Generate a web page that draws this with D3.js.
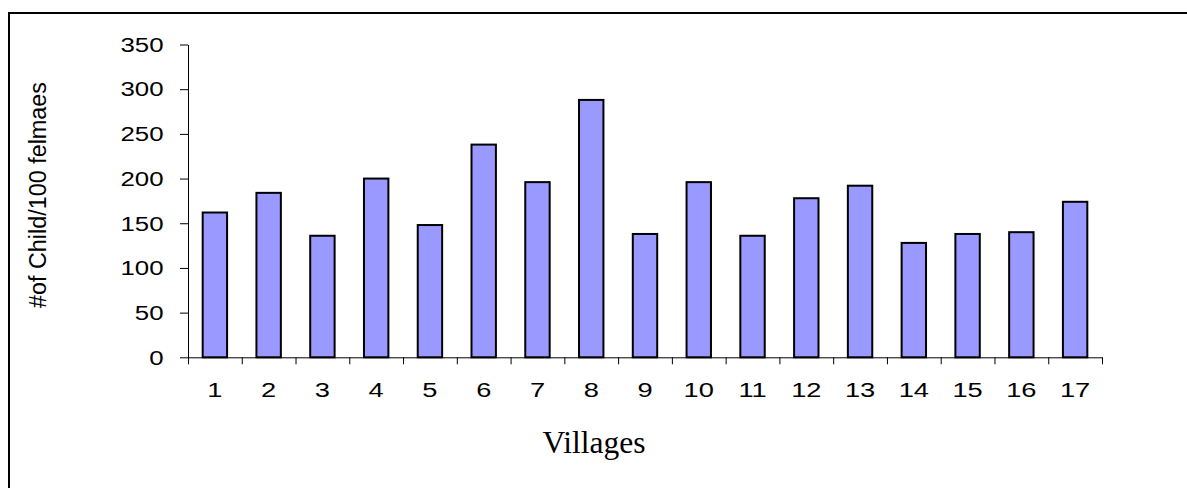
<!DOCTYPE html>
<html>
<head>
<meta charset="utf-8">
<script src="https://cdn.jsdelivr.net/npm/d3@7"></script>
<style>
  html, body { margin: 0; padding: 0; background: #fff; }
  svg { display: block; }
</style>
</head>
<body>
<svg id="chart" width="1187" height="488"></svg>
<script>
const villages = ["1","2","3","4","5","6","7","8","9","10","11","12","13","14","15","16","17"];
const childPer100Females = [162,184,136,200,148,238,196,288,138,196,136,178,192,128,138,140,174];
const yTicks = [0,50,100,150,200,250,300,350];
const yTitle = "#of Child/100 felmaes";
const xTitle = "Villages";

(function () {
const svg = d3.select("#chart");

// outer frame (left and top only visible)
svg.append("line").attr("x1", 9).attr("x2", 9).attr("y1", 12).attr("y2", 488)
  .attr("stroke", "#000").attr("stroke-width", 2);
svg.append("line").attr("x1", 8).attr("x2", 1187).attr("y1", 13).attr("y2", 13)
  .attr("stroke", "#000").attr("stroke-width", 2);

const plotLeft = 188, plotRight = 1102, plotTop = 44.5, plotBottom = 357.3;

const x = d3.scaleBand().domain(villages).range([plotLeft, plotRight])
  .paddingInner(0.546).paddingOuter(0.273);
const y = d3.scaleLinear().domain([0, 350]).range([plotBottom, plotTop]);
const xb = d3.scaleLinear().domain([0, villages.length]).range([plotLeft, plotRight]);

// bars
svg.append("g").selectAll("rect").data(villages).join("rect")
  .attr("x", d => x(d))
  .attr("y", (d, i) => y(childPer100Females[i]))
  .attr("width", x.bandwidth())
  .attr("height", (d, i) => y(0) - y(childPer100Females[i]))
  .attr("fill", "#9999FF")
  .attr("stroke", "#000")
  .attr("stroke-width", 2);

// y axis
const yAxis = svg.append("g").attr("transform", `translate(${plotLeft},0)`)
  .call(d3.axisLeft(y).tickValues(yTicks).tickSize(8).tickSizeOuter(0).tickFormat(d3.format("d")));
yAxis.selectAll("path, line").attr("stroke", "#000").attr("stroke-width", 1);
yAxis.selectAll("text")
  .attr("x", 0)
  .attr("dy", "0.33em")
  .attr("transform", "translate(-24.5,0) scale(1.26,1)")
  .attr("font-family", "'Liberation Sans', Arial, sans-serif")
  .attr("font-size", 20.5)
  .attr("fill", "#000");

// x axis: line + boundary ticks
const xAxisTicks = svg.append("g").attr("transform", `translate(0,${plotBottom})`)
  .call(d3.axisBottom(xb).tickValues(d3.range(0, villages.length + 1)).tickSize(7).tickSizeOuter(0).tickFormat(""));
xAxisTicks.selectAll("path, line").attr("stroke", "#000").attr("stroke-width", 1);

// x labels
const xLabels = svg.append("g").attr("transform", `translate(0,${plotBottom})`)
  .call(d3.axisBottom(x).tickSize(0).tickPadding(25.3));
xLabels.select(".domain").remove();
xLabels.selectAll(".tick text")
  .attr("x", 0)
  .attr("transform", "scale(1.33,1)")
  .attr("font-family", "'Liberation Sans', Arial, sans-serif")
  .attr("font-size", 20.5)
  .attr("fill", "#000");

// axis titles
svg.append("text")
  .attr("transform", "translate(46,195) rotate(-90)")
  .attr("text-anchor", "middle")
  .attr("font-family", "'Liberation Sans', Arial, sans-serif")
  .attr("font-size", 23)
  .attr("textLength", 226)
  .attr("lengthAdjust", "spacingAndGlyphs")
  .attr("fill", "#000")
  .text(yTitle);

svg.append("text")
  .attr("x", 594)
  .attr("y", 452.7)
  .attr("text-anchor", "middle")
  .attr("font-family", "'Liberation Serif', 'Times New Roman', serif")
  .attr("font-size", 31.5)
  .attr("fill", "#000")
  .text(xTitle);
})();
</script>
</body>
</html>
